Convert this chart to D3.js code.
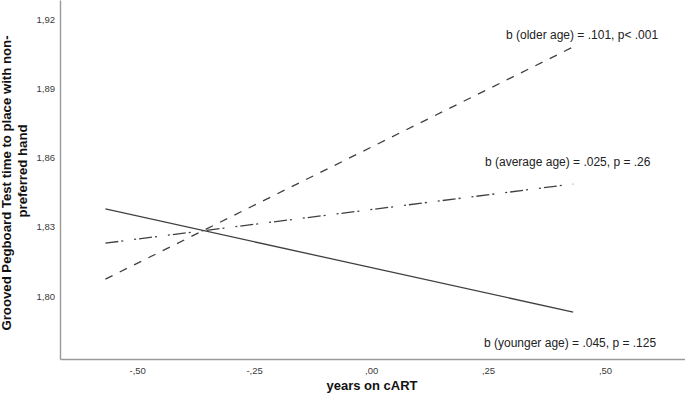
<!DOCTYPE html>
<html>
<head>
<meta charset="utf-8">
<script src="https://cdn.jsdelivr.net/npm/d3@7"></script>
<style>
  html, body { margin: 0; padding: 0; background: #fff; }
  svg { display: block; }
  text { font-family: Arial, "Liberation Sans", sans-serif; }
</style>
</head>
<body>
<svg id="chart" width="685" height="401"></svg>
<script>
// ---- Data ----
const xEnds = [-0.568, 0.432];                 // years on cART (centered) at line ends
const olderAge   = [1.8073, 1.9079];           // dashed
const averageAge = [1.8229, 1.8485];           // dash-dot
const youngerAge = [1.8377, 1.7930];           // solid
const seriesNames = ["older", "average", "younger"];
const seriesLabels = [
  "b (older age) = .101, p< .001",
  "b (average age) = .025, p = .26",
  "b (younger age) = .045, p = .125"
];
const xTicks = [-0.50, -0.25, 0.00, 0.25, 0.50];
const yTicks = [1.80, 1.83, 1.86, 1.89, 1.92];
const xTitle = "years on cART";
const yTitleLines = ["Grooved Pegboard Test time to place with non-", "preferred hand"];

// ---- Layout ----
const mLeft = 60, mBottom = 359, mRight = 685, mTop = 0;
const svg = d3.select("#chart");

const x = d3.scaleLinear().domain([-0.665, 0.671]).range([mLeft, mRight]);
const y = d3.scaleLinear().domain([1.77269, 1.92823]).range([mBottom, mTop]);

const fmt = v => {
  const a = Math.abs(v);
  let s = a.toFixed(2);
  s = s.replace(/^0\./, ",").replace(".", ",");
  return (v < 0 ? "-" : "") + s;
};

// axes
const xAxis = d3.axisBottom(x).tickValues(xTicks).tickFormat(fmt).tickSizeInner(0).tickSizeOuter(0).tickPadding(8);
const yAxis = d3.axisLeft(y).tickValues(yTicks).tickFormat(fmt).tickSizeInner(0).tickSizeOuter(0).tickPadding(5);

const gx = svg.append("g").attr("transform", `translate(0,${mBottom})`).call(xAxis);
const gy = svg.append("g").attr("transform", `translate(${mLeft},0)`).call(yAxis);
[gx, gy].forEach(g => {
  g.select(".domain").attr("stroke", "#9a9a9a").attr("stroke-width", 1.4);
  g.selectAll(".tick text").attr("fill", "#3a3a3a").style("font-size", "9.5px")
    .style("font-family", "Arial, 'Liberation Sans', sans-serif");
});

// lines
const styles = {
  older:   { data: olderAge,   dash: "8,8" },
  average: { data: averageAge, dash: "13,3,2,11,2,3" },
  younger: { data: youngerAge, dash: null }
};
const line = d3.line().x(d => x(d[0])).y(d => y(d[1]));
seriesNames.forEach(name => {
  const s = styles[name];
  const pts = xEnds.map((xv, i) => [xv, s.data[i]]);
  svg.append("path")
    .attr("d", line(pts))
    .attr("fill", "none")
    .attr("stroke", "#404040")
    .attr("stroke-width", 1.3)
    .attr("stroke-dasharray", s.dash);
});

// series labels
const labelPos = [
  { x: 506, yv: olderAge[1],   dy: -8 },
  { x: 485, yv: averageAge[1], dy: -18 },
  { x: 484, yv: youngerAge[1], dy: 35 }
];
seriesLabels.forEach((t, i) => {
  svg.append("text")
    .attr("x", labelPos[i].x)
    .attr("y", y(labelPos[i].yv) + labelPos[i].dy)
    .attr("fill", "#222")
    .style("font-size", "12px")
    .text(t);
});

// axis titles
svg.append("text")
  .attr("x", 372).attr("y", 390)
  .attr("text-anchor", "middle")
  .attr("fill", "#111")
  .style("font-size", "13px").style("font-weight", "bold")
  .text(xTitle);

const yt = svg.append("g").attr("transform", "rotate(-90)");
const yTitlePos = [{ c: 183, b: 10.5 }, { c: 171, b: 27 }];
yTitleLines.forEach((t, i) => {
  yt.append("text")
    .attr("x", -yTitlePos[i].c).attr("y", yTitlePos[i].b)
    .attr("text-anchor", "middle")
    .attr("fill", "#111")
    .style("font-size", "13.2px").style("font-weight", "bold")
    .text(t);
});
</script>
</body>
</html>
